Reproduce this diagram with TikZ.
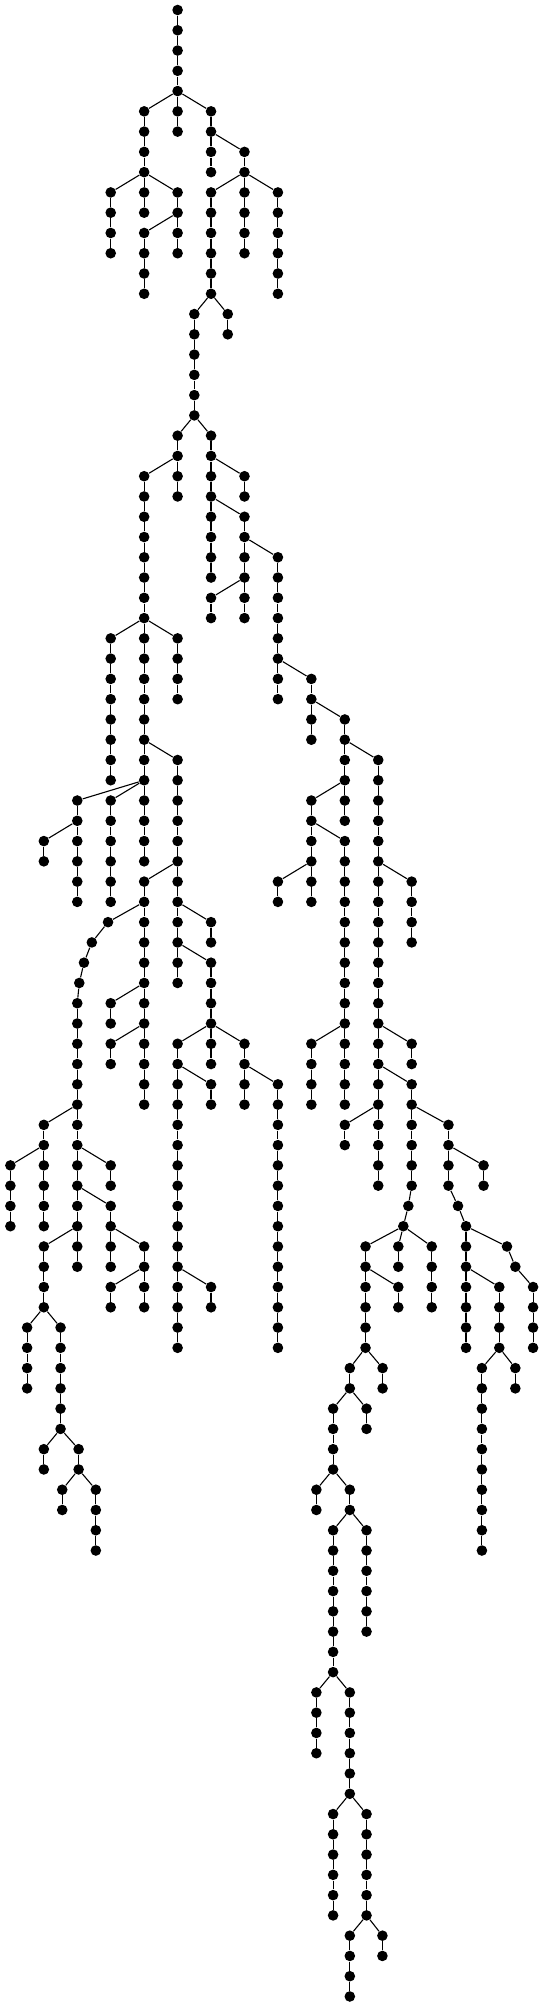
\documentclass[tikz,border=0pt]{standalone}
\tikzset{
  vtx/.style={circle,fill=black,draw=none,inner sep=0pt,minimum size=5.3pt},
  lnk/.style={line width=0.55pt,black}
}
% chain: parent, x, tag, first row, last row
\newcommand\chain[5]{%
  \node[vtx] (n#4-#3) at (#2,#4) {};
  \draw[lnk] (#1) -- (n#4-#3);
  \ifnum#5>#4\relax
    \pgfmathtruncatemacro\chainstart{#4+1}%
    \foreach \rr in {\chainstart,...,#5}{%
      \pgfmathtruncatemacro\rp{\rr-1}%
      \node[vtx] (n\rr-#3) at (#2,\rr) {};
      \draw[lnk] (n\rp-#3) -- (n\rr-#3);
    }%
  \fi
}
% one node: parent, name, x, row
\newcommand\onev[4]{%
  \node[vtx] (#2) at (#3,#4) {};
  \draw[lnk] (#1) -- (#2);
}
\begin{document}
\begin{tikzpicture}[x=8.36pt,y=-10.135pt]
\useasboundingbox (-5.2pt,5pt) rectangle (264.8pt,-998pt);
\node[vtx] (n0-10) at (10,0) {};
\chain{n0-10}{10}{10}{1}{4}
\chain{n4-10}{8}{8}{5}{8}
\chain{n8-8}{6}{6}{9}{12}
\chain{n8-8}{8}{8}{9}{10}
\chain{n8-8}{10}{10}{9}{10}
\chain{n10-10}{8}{8}{11}{14}
\chain{n10-10}{10}{10}{11}{12}
\chain{n4-10}{10}{10}{5}{6}
\chain{n4-10}{12}{12}{5}{6}
\chain{n6-12}{12}{12}{7}{8}
\chain{n6-12}{14}{14}{7}{8}
\chain{n8-14}{12}{12}{9}{14}
\chain{n8-14}{14}{14}{9}{12}
\chain{n8-14}{16}{16}{9}{14}
\chain{n14-12}{11}{11}{15}{20}
\chain{n14-12}{13}{13}{15}{16}
\chain{n20-11}{10}{10}{21}{22}
\chain{n20-11}{12}{12}{21}{22}
% left big branch
\chain{n22-10}{8}{8}{23}{30}
\chain{n22-10}{10}{10}{23}{24}
\chain{n30-8}{6}{6}{31}{38}
\chain{n30-8}{8}{8}{31}{36}
\chain{n30-8}{10}{10}{31}{34}
\chain{n36-8}{8}{8}{37}{38}
\chain{n36-8}{10}{10}{37}{42}
\chain{n38-8}{4}{4}{39}{40}
\chain{n38-8}{6}{6}{39}{44}
\chain{n38-8}{8}{8}{39}{42}
\chain{n40-4}{2}{2}{41}{42}
\chain{n40-4}{4}{4}{41}{44}
\chain{n42-10}{8}{8}{43}{44}
\chain{n42-10}{10}{10}{43}{44}
\onev{n44-8}{n45-6}{5.84}{45}
\onev{n45-6}{n46-5}{4.87}{46}
\onev{n46-5}{n47-4}{4.4}{47}
\onev{n47-4}{n48-4}{4.12}{48}
\chain{n48-4}{4}{4}{49}{54}
\chain{n44-8}{8}{8}{45}{48}
\chain{n48-8}{6}{6}{49}{50}
\chain{n48-8}{8}{8}{49}{50}
\chain{n50-8}{6}{6}{51}{52}
\chain{n50-8}{8}{8}{51}{54}
\chain{n54-4}{2}{2}{55}{56}
\chain{n54-4}{4}{4}{55}{56}
\chain{n56-2}{0}{0}{57}{60}
\chain{n56-2}{2}{2}{57}{60}
\chain{n56-4}{4}{4}{57}{58}
\chain{n56-4}{6}{6}{57}{58}
\chain{n58-4}{4}{4}{59}{60}
\chain{n58-4}{6}{6}{59}{60}
\chain{n60-4}{2}{2}{61}{64}
\chain{n60-4}{4}{4}{61}{62}
\chain{n64-2}{1}{1}{65}{68}
\chain{n64-2}{3}{3}{65}{70}
\chain{n70-3}{2}{2}{71}{72}
\chain{n70-3}{4.08}{4}{71}{72}
\chain{n72-4}{3.1}{3}{73}{74}
\chain{n72-4}{5.11}{5}{73}{76}
\chain{n60-6}{6}{6}{61}{62}
\chain{n60-6}{8}{8}{61}{62}
\chain{n62-8}{6}{6}{63}{64}
\chain{n62-8}{8}{8}{63}{64}
\chain{n44-10}{10}{10}{45}{46}
\chain{n44-10}{12}{12}{45}{46}
\chain{n46-10}{10}{10}{47}{48}
\chain{n46-10}{12}{12}{47}{50}
\chain{n50-12}{10}{10}{51}{52}
\chain{n50-12}{12}{12}{51}{52}
\chain{n50-12}{14}{14}{51}{52}
\chain{n52-10}{10}{10}{53}{62}
\chain{n52-10}{12}{12}{53}{54}
\chain{n62-10}{10}{10}{63}{66}
\chain{n62-10}{12}{12}{63}{64}
\chain{n52-14}{14}{14}{53}{54}
\chain{n52-14}{16}{16}{53}{66}
% right big branch
\chain{n22-12}{12}{12}{23}{28}
\chain{n22-12}{14}{14}{23}{24}
\chain{n24-12}{14}{14}{25}{26}
\chain{n26-14}{14}{14}{27}{28}
\chain{n26-14}{16}{16}{27}{32}
\chain{n28-14}{12}{12}{29}{30}
\chain{n28-14}{14}{14}{29}{30}
\chain{n32-16}{16}{16}{33}{34}
\chain{n32-16}{18}{18}{33}{34}
\chain{n34-18}{18}{18}{35}{36}
\chain{n34-18}{20}{20}{35}{36}
\chain{n36-20}{20}{20}{37}{38}
\chain{n36-20}{22}{22}{37}{50}
\chain{n38-20}{18}{18}{39}{40}
\chain{n38-20}{20}{20}{39}{40}
\chain{n40-18}{18}{18}{41}{42}
\chain{n40-18}{20}{20}{41}{50}
\chain{n42-18}{16}{16}{43}{44}
\chain{n42-18}{18}{18}{43}{44}
\chain{n50-20}{18}{18}{51}{54}
\chain{n50-20}{20}{20}{51}{54}
\chain{n42-22}{24}{24}{43}{46}
\chain{n50-22}{22}{22}{51}{52}
\chain{n50-22}{24}{24}{51}{52}
\chain{n52-22}{22}{22}{53}{54}
\chain{n52-22}{24}{24}{53}{54}
\chain{n54-22}{20}{20}{55}{56}
\chain{n54-22}{22}{22}{55}{58}
\chain{n54-24}{24}{24}{55}{58}
\chain{n54-24}{26.2}{26}{55}{58}
\chain{n56-26}{28.3}{28}{57}{58}
\onev{n58-24}{n59-24}{23.8}{59}
\onev{n59-24}{n60-24}{23.5}{60}
\chain{n60-24}{21.24}{21}{61}{66}
\chain{n60-24}{23.2}{23}{61}{62}
\chain{n60-24}{25.2}{25}{61}{64}
\chain{n62-21}{23.2}{23}{63}{64}
\chain{n66-21}{20.3}{20}{67}{68}
\chain{n66-21}{22.26}{22}{67}{68}
\chain{n68-20}{19.3}{19}{69}{72}
\chain{n68-20}{21.3}{21}{69}{70}
\chain{n72-19}{18.3}{18}{73}{74}
\chain{n72-19}{20.3}{20}{73}{74}
\chain{n74-20}{19.3}{19}{75}{82}
\chain{n74-20}{21.3}{21}{75}{80}
\chain{n82-19}{18.3}{18}{83}{86}
\chain{n82-19}{20.3}{20}{83}{88}
\chain{n88-20}{19.3}{19}{89}{94}
\chain{n88-20}{21.3}{21}{89}{94}
\chain{n94-21}{20.3}{20}{95}{98}
\chain{n94-21}{22.25}{22}{95}{96}
\onev{n58-26}{n59-27}{26.77}{59}
\onev{n59-27}{n60-27}{27.25}{60}
\chain{n60-27}{27.25}{27}{61}{66}
\onev{n60-27}{n61-30}{29.7}{61}
\onev{n61-30}{n62-30}{30.2}{62}
\chain{n62-30}{31.26}{31}{63}{66}
\chain{n62-27}{29.24}{29}{63}{66}
\chain{n66-29}{28.2}{28}{67}{76}
\chain{n66-29}{30.2}{30}{67}{68}
\end{tikzpicture}
\end{document}
